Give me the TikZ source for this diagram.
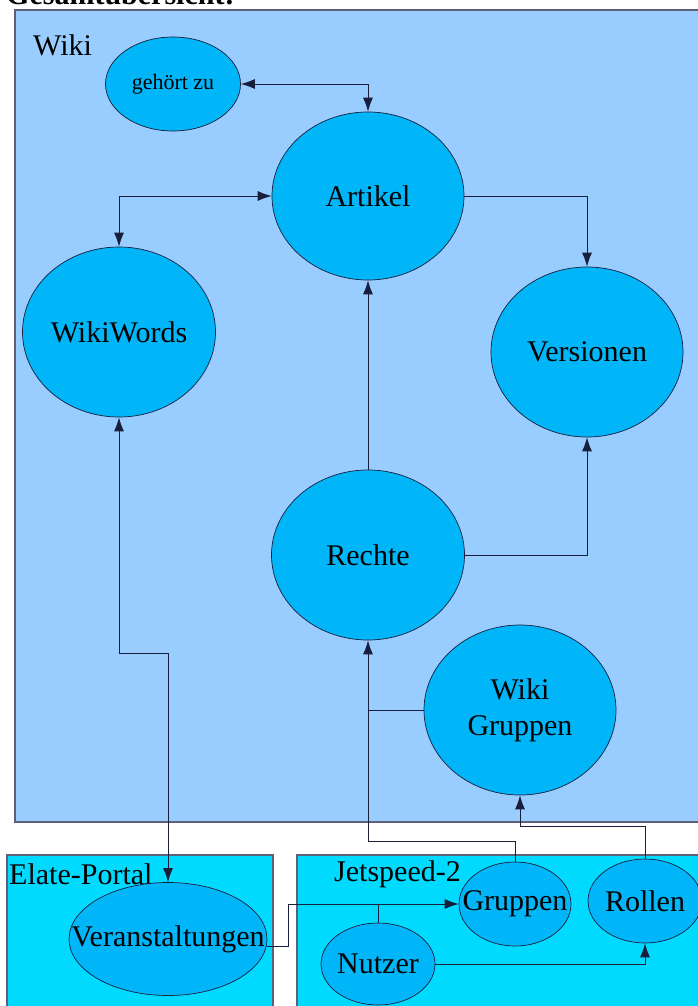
\documentclass[tikz,border=0pt]{standalone}
\usepackage{fontspec}
\setmainfont{Liberation Serif}
\usetikzlibrary{shapes.geometric,arrows.meta}

\definecolor{wikibg}{RGB}{153,204,255}
\definecolor{kugel}{RGB}{0,182,248}
\definecolor{portalbg}{RGB}{0,218,255}
\definecolor{rand}{RGB}{25,30,60}

\tikzset{
  blase/.style={ellipse,draw=rand,line width=0.7pt,fill=kugel,inner sep=0pt,
    align=center,font=\fontsize{30}{36}\selectfont},
  eng/.style={inner xsep=-30pt},
  bereich/.style={draw=rand!70,line width=1.2pt},
  pfeil/.style={-{Latex[length=14pt,width=10pt]},draw=rand,line width=0.9pt},
  doppel/.style={{Latex[length=14pt,width=10pt]}-{Latex[length=14pt,width=10pt]},draw=rand,line width=0.9pt},
  linie/.style={draw=rand,line width=0.9pt},
  marke/.style={anchor=west,inner sep=0pt,font=\fontsize{30}{32}\selectfont}
}

\begin{document}
\begin{tikzpicture}[x=1pt,y=-1pt]
  \useasboundingbox[fill=white] (0,0) rectangle (697,1006);

  % Title (cut at the top edge)
  \node[anchor=base west,inner sep=0pt,font=\fontsize{30}{32}\selectfont\bfseries] (titel) at (6,5) {Gesamtübersicht:};

  % Areas
  \filldraw[bereich,fill=wikibg] (15,10) rectangle (710,822);
  \filldraw[bereich,fill=portalbg] (7,855) rectangle (273,1015);
  \filldraw[bereich,fill=portalbg] (297,855) rectangle (710,1015);
  \node[marke] (wikilabel) at (33,45) {Wiki};
  \node[marke] (elatelabel) at (9,874) {Elate-Portal};
  \node[marke] (jetlabel) at (334,874) {Jetspeed-2};

  % Wiki
  \node[blase,minimum width=135pt,minimum height=94pt,font=\fontsize{22}{26}\selectfont] (gehoert) at (173,84) {gehört zu};
  \node[blase,minimum width=192pt,minimum height=168pt] (artikel) at (368,196) {Artikel};
  \node[blase,minimum width=193pt,minimum height=170pt] (wikiwords) at (119,332) {WikiWords};
  \node[blase,minimum width=192pt,minimum height=170pt] (versionen) at (587,352) {Versionen};
  \node[blase,minimum width=193pt,minimum height=170pt] (rechte) at (368,555) {Rechte};
  \node[blase,minimum width=192pt,minimum height=170pt] (wikigruppen) at (520,710) {Wiki\\Gruppen};

  % Elate-Portal and Jetspeed-2
  \node[blase,eng,minimum width=198pt,minimum height=113pt] (veranst) at (168,939) {Veranstaltungen};
  \node[blase,eng,minimum width=112pt,minimum height=84pt] (gruppen) at (515,904) {Gruppen};
  \node[blase,eng,minimum width=114pt,minimum height=84pt] (rollen) at (645,901) {Rollen};
  \node[blase,eng,minimum width=114pt,minimum height=82pt] (nutzer) at (378,964) {Nutzer};

  % Connectors
  \draw[doppel] (gehoert.east) -| (artikel.north);
  \draw[doppel] (artikel.west) -| (wikiwords.north);
  \draw[pfeil] (artikel.east) -| (versionen.north);
  \draw[pfeil] (rechte.north) -- (artikel.south);
  \draw[pfeil] (rechte.east) -| (versionen.south);
  \draw[doppel] (wikiwords.south) -- ++(0,236) -| (veranst.north);
  \draw[linie] (wikigruppen.west) -- (rechte.south |- wikigruppen.west);
  \draw[pfeil] (gruppen.north) -- ++(0,-20) -| (rechte.south);
  \draw[pfeil] (rollen.north) -- ++(0,-32) -| (wikigruppen.south);
  \draw[pfeil] ([yshift=-7pt]veranst.east) -- ++(21,0) |- (gruppen.west);
  \draw[linie] (nutzer.north) -- (nutzer.north |- gruppen.west);
  \draw[pfeil] (nutzer.east) -| (rollen.south);
\end{tikzpicture}
\end{document}
